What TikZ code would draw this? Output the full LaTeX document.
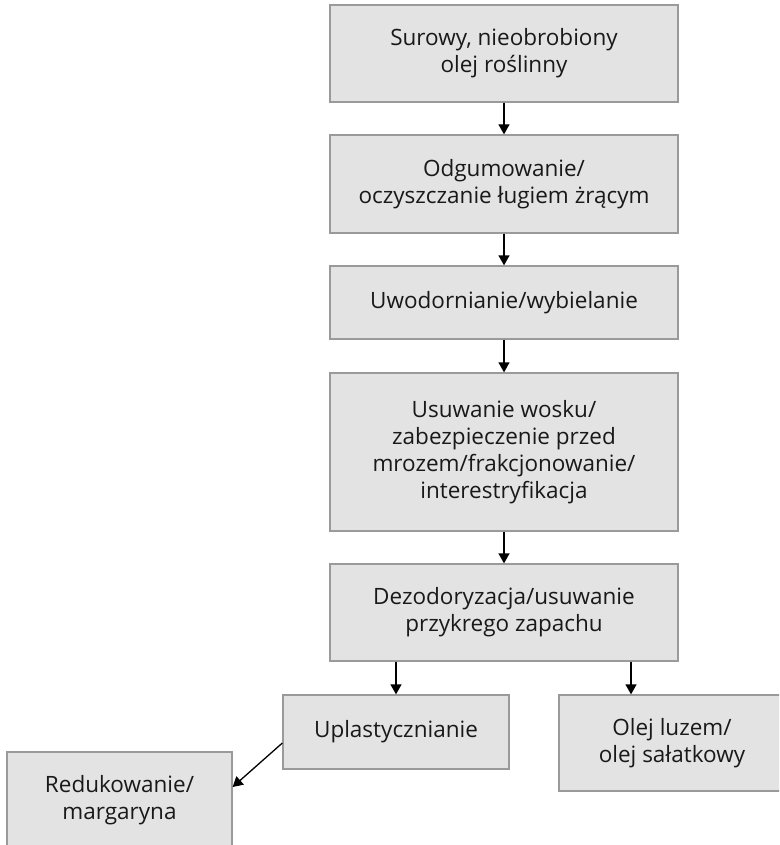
\documentclass[tikz,border=0pt]{standalone}
\usepackage{fontspec}
\setmainfont{Open Sans}
\usetikzlibrary{arrows.meta}
\definecolor{boxfill}{HTML}{E3E3E3}
\definecolor{boxline}{HTML}{9A9A9A}
\tikzset{
  stepbox/.style={draw=boxline, fill=boxfill, line width=1.3pt, inner sep=0pt,
    align=center, font=\fontsize{22.5}{27}\selectfont, text=black!90},
  arr/.style={draw=black, line width=1.3pt, -{Triangle[width=11pt,length=10pt]}}
}
\begin{document}
\begin{tikzpicture}[x=1pt,y=-1pt]
\useasboundingbox (0,0) rectangle (779,845);
\clip (0,0) rectangle (779,845);
\node[stepbox, minimum width=348pt, minimum height=97pt] (b1) at (504,53.5) {Surowy, nieobrobiony\\olej roślinny};
\node[stepbox, minimum width=348pt, minimum height=98pt] (b2) at (504,184) {Odgumowanie/\\oczyszczanie ługiem żrącym};
\node[stepbox, minimum width=348pt, minimum height=73pt] (b3) at (504,302.5) {Uwodornianie/wybielanie};
\node[stepbox, minimum width=348pt, minimum height=158pt] (b4) at (504,452) {Usuwanie wosku/\\zabezpieczenie przed\\mrozem/frakcjonowanie/\\interestryfikacja};
\node[stepbox, minimum width=348pt, minimum height=97pt] (b5) at (504,612.5) {Dezodoryzacja/usuwanie\\przykrego zapachu};
\node[stepbox, minimum width=226pt, minimum height=74pt] (b6) at (396,732) {Uplastycznianie};
\node[stepbox, minimum width=226pt, minimum height=96pt] (b7) at (672,743) {Olej luzem/\\olej sałatkowy};
\node[stepbox, minimum width=225pt, minimum height=96pt] (b8) at (119.5,800) {Redukowanie/\\margaryna};
\draw[arr] (b1) -- (b2);
\draw[arr] (b2) -- (b3);
\draw[arr] (b3) -- (b4);
\draw[arr] (b4) -- (b5);
\draw[arr] (b5.south -| b6) -- (b6.north);
\coordinate (t7) at (631,0);
\draw[arr] (b5.south -| t7) -- (b7.north -| t7);
\draw[arr] ([yshift=-11pt]b6.west) -- ([yshift=13pt]b8.east);
\end{tikzpicture}
\end{document}
